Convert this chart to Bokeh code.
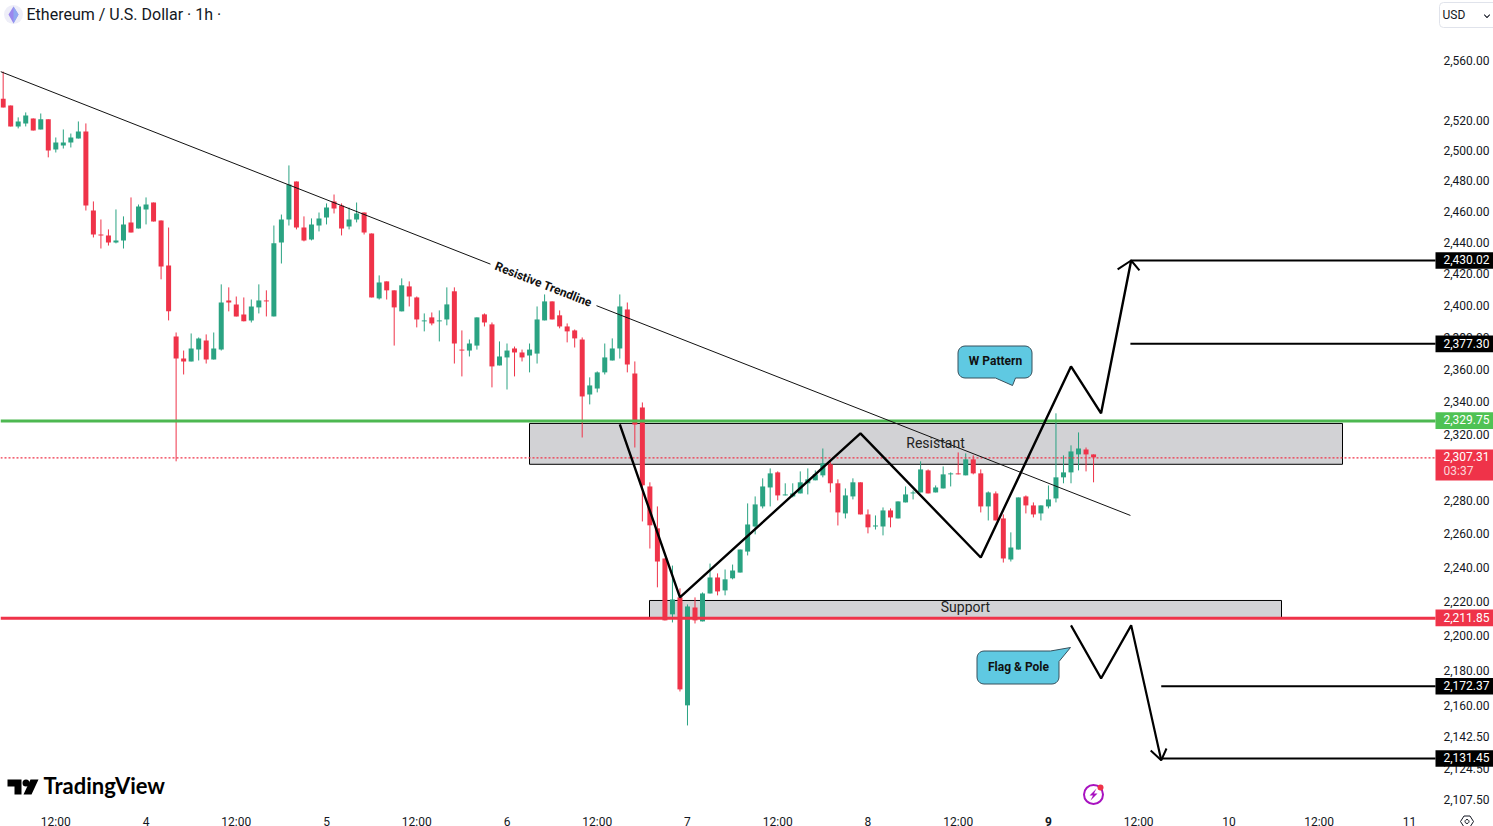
import math
from bokeh.plotting import figure
from bokeh.embed import file_html
from bokeh.resources import INLINE
from bokeh.models import Range1d, FixedTicker, Label, BoxAnnotation, PolyAnnotation

hours = list(range(-7, 139))
opens = [2535.8,2531.2,2517.3,2519.3,2522.6,2515.3,2522.0,
2502.1,2504.7,2506.7,2509.3,2513.9,2462.2,2446.7,2446.1,2441.6,2442.9,2454.5,2450.6,2462.9,2467.4,2455.8,2426.8,2381.9,2368.1,
2366.3,2373.7,2379.4,2367.5,2373.7,2404.6,2402.1,2395.8,2392.0,2400.2,2404.6,2394.5,2441.6,2456.4,2481.1,2451.2,2443.5,2452.5,2457.7,2468.1,
2465.4,2451.9,2456.4,2460.9,2447.4,2405.9,2416.7,2411.0,2397.7,2413.5,2406.5,2391.4,2393.9,2391.4,2392.6,2410.4,2373.7,2373.1,2376.2,2395.8,
2389.5,2363.8,2368.8,2374.4,2371.9,2370.0,2371.2,2392.0,2404.0,2395.2,2388.2,2385.7,2380.0,2345.8,2349.5,2359.5,2366.9,2374.4,2398.9,2358.8,
2337.8,2289.7,2264.6,2246.7,2213.9,2223.8,2161.5,2217.9,2209.8,2226.1,2235.5,2227.9,2235.0,2238.4,2250.8,2265.7,2277.7,2289.1,2298.2,2284.3,
2283.7,2285.5,2291.6,2293.4,2296.4,2303.1,2291.6,2273.5,2283.7,2292.2,2272.9,2265.7,2265.7,2275.3,2270.5,2280.1,2285.5,2286.1,2299.4,2286.1,
2288.5,2297.0,2297.6,2296.4,2306.1,2297.6,2277.7,2285.5,2270.5,2246.1,2252.0,2283.7,2278.3,2273.5,2277.7,2282.5,2295.2,2298.2,2309.1,2312.1,2309.1]
closes = [2529.9,2517.3,2520.6,2524.6,2514.6,2522.0,2501.4,
2506.7,2506.7,2510.0,2513.9,2465.4,2446.7,2446.1,2441.6,2442.9,2453.2,2448.0,2464.8,2466.1,2455.1,2426.2,2397.7,2368.1,2366.3,
2374.4,2380.7,2367.5,2374.4,2403.3,2403.3,2394.5,2391.4,2400.8,2404.6,2404.0,2441.0,2456.4,2479.2,2451.2,2442.9,2453.2,2457.1,2464.1,2463.5,
2450.6,2456.4,2460.3,2448.0,2406.5,2416.0,2411.0,2400.2,2414.2,2407.1,2392.6,2392.0,2390.1,2392.0,2402.1,2377.5,2373.1,2377.5,2393.9,2390.7,
2363.2,2369.4,2373.1,2371.9,2368.8,2373.7,2392.6,2404.0,2392.6,2388.2,2385.1,2380.7,2344.6,2351.4,2359.5,2368.8,2374.4,2400.8,2364.4,2327.3,
2290.4,2266.4,2244.9,2210.4,2222.6,2170.6,2218.5,2210.4,2226.1,2235.5,2227.3,2234.4,2239.6,2252.0,2266.9,2278.9,2289.7,2297.6,2284.3,2284.9,
2285.5,2292.2,2294.0,2297.0,2303.7,2291.6,2274.1,2284.3,2292.2,2272.9,2265.2,2266.3,2275.3,2271.1,2280.7,2284.9,2286.1,2300.0,2285.5,2289.1,
2297.0,2297.6,2297.0,2306.1,2297.6,2277.7,2286.1,2269.3,2246.7,2253.2,2283.1,2278.3,2272.9,2278.3,2281.9,2295.2,2298.2,2310.9,2312.7,2309.1,2307.31]
highs = [2553.9,2531.2,2523.3,2526.6,2522.6,2525.9,2522.0,
2510.0,2515.3,2512.6,2520.6,2519.3,2468.1,2456.4,2450.0,2462.9,2458.4,2470.7,2466.1,2470.7,2467.4,2455.8,2451.2,2384.4,2373.1,
2383.8,2381.3,2383.2,2384.4,2414.8,2412.9,2407.1,2406.5,2405.2,2414.8,2411.0,2452.5,2459.6,2491.6,2481.1,2458.4,2457.1,2460.9,2466.8,2472.6,
2466.8,2464.1,2467.4,2460.9,2447.4,2420.5,2416.7,2411.0,2418.6,2416.7,2407.1,2396.4,2397.0,2398.3,2412.9,2412.9,2385.7,2380.0,2393.9,2396.4,
2390.7,2378.8,2377.5,2375.6,2373.7,2377.5,2400.8,2408.4,2404.0,2398.3,2390.1,2386.3,2381.3,2356.4,2360.1,2377.5,2380.7,2408.4,2403.3,2366.3,
2340.9,2292.2,2277.7,2246.7,2242.5,2229.1,2219.7,2223.8,2226.7,2243.7,2237.9,2240.2,2243.1,2252.0,2279.5,2283.7,2294.6,2300.6,2298.8,2291.6,
2291.6,2298.8,2300.6,2299.4,2312.7,2305.5,2294.0,2288.5,2294.6,2292.2,2275.9,2272.3,2277.1,2276.5,2280.7,2289.7,2287.3,2304.9,2300.0,2290.3,
2301.8,2298.2,2310.3,2309.7,2308.5,2300.0,2286.7,2286.7,2272.9,2262.2,2283.1,2284.3,2280.1,2278.3,2290.3,2334.2,2308.5,2314.6,2322.5,2313.3,2309.1]
lows = [2529.9,2517.3,2516.0,2517.3,2514.6,2515.3,2496.9,
2500.1,2502.7,2503.4,2509.3,2462.2,2444.8,2437.7,2439.6,2441.0,2437.7,2448.0,2450.6,2453.2,2455.1,2418.0,2392.0,2304.9,2358.2,
2366.3,2366.9,2365.0,2367.5,2373.1,2397.7,2394.5,2391.4,2390.7,2396.4,2394.5,2394.5,2428.1,2452.5,2450.0,2442.3,2442.9,2448.7,2453.2,2460.3,
2446.1,2450.0,2454.5,2446.7,2406.5,2405.2,2405.2,2376.2,2397.7,2400.8,2387.6,2385.1,2388.9,2378.8,2388.9,2365.0,2357.0,2369.4,2373.7,2388.2,
2350.2,2363.8,2348.9,2357.0,2366.3,2359.5,2365.0,2392.0,2392.6,2387.0,2378.2,2375.0,2319.4,2339.7,2347.1,2358.2,2366.9,2368.1,2359.5,2313.3,
2268.7,2252.6,2229.7,2210.4,2209.2,2169.4,2150.1,2208.6,2209.8,2226.1,2225.0,2225.0,2234.4,2238.4,2248.5,2261.0,2276.5,2277.7,2281.3,2284.3,
2283.1,2285.5,2284.9,2293.4,2295.2,2286.1,2266.3,2270.5,2281.9,2272.9,2261.6,2263.9,2260.4,2265.2,2270.5,2280.1,2281.9,2286.1,2285.5,2286.1,
2288.5,2289.7,2297.0,2296.4,2297.0,2274.1,2269.3,2269.3,2244.3,2244.9,2252.0,2273.5,2271.1,2269.3,2276.5,2280.1,2291.6,2291.6,2299.4,2298.8,2292.2]

price_ticks = [2560,2520,2500,2480,2460,2440,2420,2400,2380,2360,2340,2320,2300,2280,2260,2240,2220,2200,2180,2160,2142.5,2124.5,2107.5]
time_ticks = [0,12,24,36,48,60,72,84,96,108,120,132,144,156,168,180]
time_labels = ["12:00","4","12:00","5","12:00","6","12:00","7","12:00","8","12:00","","12:00","10","12:00","11"]

support_price = 2211.85
resist_price = 2329.75
last_price = 2307.31
targets_up = [2430.02, 2377.30]
targets_down = [2172.37, 2131.45]

trend_x = [[-7.35, 57.8], [71.9, 142.9]]
trend_y = [[2553.9, 2427.7], [2401.3, 2272.3]]
w_x = [75.0, 83.0, 107.0, 123.0, 135.0, 139.0, 143.0]
w_y = [2327.4, 2223.8, 2321.9, 2247.3, 2363.2, 2334.2, 2430.02]
flag_x = [135.0, 139.0, 143.0, 147.0]
flag_y = [2207.5, 2176.9, 2207.5, 2130.5]
head_up_x = [141.2, 143.0, 144.1]
head_up_y = [2424.3, 2430.02, 2423.7]
head_dn_x = [145.6, 147.0, 147.7]
head_dn_y = [2136.0, 2130.5, 2137.1]

GREEN = "#2aa382"
RED = "#ef3349"
INK = "#131722"

# pixel helpers, for decoration only (logo, icons, callouts)
def hx(px): return (px - 55.3) / 7.52
def py(y): return 2430.02 * math.exp((260 - y) / 3799)
def nudge(price, dpx): return price * math.exp(-dpx / 3799)

LEFT_H, RIGHT_H = hx(0), hx(1435)

p = figure(frame_width=1493, frame_height=826, y_axis_type="log", y_axis_location="right",
           x_range=Range1d(LEFT_H, hx(1493)), y_range=Range1d(py(826), py(0)),
           toolbar_location=None, output_backend="svg", background_fill_color="white",
           min_border_left=0, min_border_top=0, min_border_right=0, min_border_bottom=0)
p.outline_line_color = None
p.grid.visible = False

ya = p.yaxis[0]
shown_ticks = [round(nudge(t, -2.3), 3) for t in price_ticks]
ya.ticker = FixedTicker(ticks=shown_ticks)
ya.major_label_overrides = {s: f"{t:,.2f}" for s, t in zip(shown_ticks, price_ticks)}
ya.fixed_location = hx(1436)
xa = p.xaxis[0]
xa.ticker = FixedTicker(ticks=time_ticks)
xa.major_label_overrides = dict(zip(time_ticks, time_labels))
xa.fixed_location = py(806)
for a in (xa, ya):
    a.axis_line_color = None
    a.major_tick_line_color = None
    a.minor_tick_line_color = None
    a.major_label_text_font = "Roboto"
    a.major_label_text_font_size = "12px"
    a.major_label_text_color = INK
ya.major_label_standoff = 1
xa.major_label_standoff = 2

# zones
p.quad(left=[hx(529), hx(649)], right=[hx(1342), hx(1281)], top=[2328.0, 2222.0], bottom=[2303.1, 2212.0],
       fill_color="#d2d2d5", line_color="black", line_width=1)

# candles
cols = [GREEN if c >= o else RED for o, c in zip(opens, closes)]
p.segment(hours, highs, hours, lows, color=cols, line_width=1)
tops = [max(o, c) for o, c in zip(opens, closes)]
bots = [min(o, c) for o, c in zip(opens, closes)]
p.vbar(x=hours, width=5/7.52, top=tops, bottom=bots, fill_color=cols, line_color=None)

# levels
p.line([LEFT_H, RIGHT_H], [nudge(resist_price, 0.5)]*2, line_color="#4db851", line_width=3)
p.line([LEFT_H, RIGHT_H], [nudge(support_price, 0.3)]*2, line_color=RED, line_width=3)
p.line([LEFT_H, RIGHT_H], [nudge(last_price, 0.5)]*2, line_color=RED, line_width=1.2, line_dash="2 2")
for lv in targets_up:
    p.line([142.9, RIGHT_H], [lv, lv], line_color="black", line_width=2)
for lv in targets_down:
    p.line([147.0, RIGHT_H], [lv, lv], line_color="black", line_width=2)

# drawings
p.multi_line(trend_x, trend_y, line_color="#111111", line_width=1)
p.line(w_x, w_y, line_color="black", line_width=2.4)
p.line(flag_x, flag_y, line_color="black", line_width=2.2)
p.line(head_up_x, head_up_y, line_color="black", line_width=2)
p.line(head_dn_x, head_dn_y, line_color="black", line_width=2)

def txt(px, y, text, size="12px", style="normal", color=INK, font="Roboto", align="center", angle=0):
    p.add_layout(Label(x=hx(px), y=py(y - 1), text=text, text_font=font, text_font_size=size, text_font_style=style,
                       text_color=color, text_align=align, text_baseline="middle", angle=angle, angle_units="deg"))

txt(543, 285, "Resistive Trendline", size="12px", style="bold", color="#111111", angle=-21.45)
txt(935, 443, "Resistant", size="14px", color="#222222")
txt(965, 607, "Support", size="14px", color="#222222")

# callouts
def arc(cx, cy, r, a0, a1, n=5):
    return [(cx + r*math.cos(math.radians(a0 + (a1-a0)*i/n)), cy + r*math.sin(math.radians(a0 + (a1-a0)*i/n))) for i in range(n+1)]

def callout(x0, y0, x1, y1, kind, r=7):
    pts = arc(x0+r, y0+r, r, 180, 270)
    if kind == "flag":
        pts += [(1050, y0), (1070, 647), (x1, 661)]
    else:
        pts += arc(x1-r, y0+r, r, 270, 360)
    pts += arc(x1-r, y1-r, r, 0, 90)
    if kind == "w":
        pts += [(1015, y1), (1012, 385), (995, y1)]
    pts += arc(x0+r, y1-r, r, 90, 180)
    p.patch([hx(a) for a, _ in pts], [py(b) for _, b in pts], fill_color="#5fc9e2", line_color="#37505c", line_width=1)

callout(957.5, 345.5, 1031.5, 377.5, "w")
callout(976.5, 650.5, 1058.5, 683.5, "flag")
txt(995, 361, "W Pattern", style="bold", color="#111111")
txt(1018, 667, "Flag & Pole", style="bold", color="#111111")

# price tags
def tag(price, color, text):
    p.add_layout(BoxAnnotation(left=1435, right=1493, left_units="screen", right_units="screen",
                               top=nudge(price, -8.3), bottom=nudge(price, 8.3),
                               fill_color=color, fill_alpha=1, line_color=None))
    p.add_layout(Label(x=1443, x_units="screen", y=nudge(price, -0.8), text=text, text_font="Roboto", text_font_size="12px",
                       text_color="white", text_baseline="middle"))

for lv in targets_up + targets_down:
    tag(lv, "black", f"{lv:,.2f}")
tag(resist_price, "#4fc254", f"{resist_price:,.2f}")
tag(support_price, RED, f"{support_price:,.2f}")
p.add_layout(BoxAnnotation(left=1435, right=1493, left_units="screen", right_units="screen", top=py(449), bottom=py(480),
                           fill_color=RED, fill_alpha=1, line_color=None))
p.add_layout(Label(x=1443, x_units="screen", y=py(456), text=f"{last_price:,.2f}", text_font="Roboto", text_font_size="12px",
                   text_color="white", text_baseline="middle"))
p.add_layout(Label(x=1443, x_units="screen", y=py(470), text="03:37", text_font="Roboto", text_font_size="12px",
                   text_color="white", text_alpha=0.8, text_baseline="middle"))

# bold day label
txt(1048, 822, "9", style="bold")

# title and icon
p.scatter([hx(13)], [py(14)], marker="circle", size=19, fill_color="#eeeef8", line_color=None)
p.patch([hx(13), hx(18), hx(13), hx(8)], [py(6), py(14), py(23), py(14)], fill_color="#9b86ee", line_color=None)
p.patch([hx(13), hx(18), hx(13)], [py(6), py(14), py(23)], fill_color="#8fa8f0", line_color=None)
p.add_layout(Label(x=26, x_units="screen", y=py(14), text="Ethereum / U.S. Dollar · 1h ·", text_font="Roboto",
                   text_font_size="16px", text_color=INK, text_baseline="middle"))

# currency box
p.add_layout(BoxAnnotation(left=1439, right=1500, left_units="screen", right_units="screen", top=py(2), bottom=py(27),
                           fill_color="white", fill_alpha=1, line_color="#e0e3eb", line_alpha=1, line_width=1, border_radius=4))
p.add_layout(Label(x=1442, x_units="screen", y=py(14), text="USD", text_font="Roboto", text_font_size="12px",
                   text_color=INK, text_baseline="middle"))
p.add_layout(PolyAnnotation(xs=[1484, 1486.5, 1489, 1489, 1486.5, 1484], xs_units="screen",
                            ys=[py(14), py(16.5), py(14), py(15), py(17.5), py(15)],
                            fill_color=INK, fill_alpha=1, line_color=INK, line_alpha=1, line_width=0.5))

# settings glyph
hexx = [1460, 1463.5, 1469.5, 1473, 1469.5, 1463.5]
hexy = [821, 815.5, 815.5, 821, 826.5, 826.5]
p.add_layout(PolyAnnotation(xs=hexx, xs_units="screen", ys=[py(v) for v in hexy], fill_alpha=0,
                            line_color=INK, line_alpha=1, line_width=1))
ring = arc(1466.5, 821, 2, 0, 360, 12)
p.add_layout(PolyAnnotation(xs=[a for a, _ in ring], xs_units="screen", ys=[py(b) for _, b in ring], fill_alpha=0,
                            line_color=INK, line_alpha=1, line_width=1))

# TradingView logo
p.patch([hx(v) for v in (7, 21, 21, 14, 14, 7)], [py(v) for v in (779, 779, 794, 794, 786, 786)], fill_color="black", line_color=None)
p.scatter([hx(25.5)], [py(782.5)], marker="circle", size=7, fill_color="black", line_color=None)
p.patch([hx(v) for v in (30, 38, 31, 23)], [py(v) for v in (779, 779, 794, 794)], fill_color="black", line_color=None)
txt(43, 786, "TradingView", size="22px", style="bold", color="black", font="Lato", align="left")

# lightning icon
p.scatter([hx(1093)], [py(794)], marker="circle", size=19, fill_alpha=0, line_color="#a812c0", line_width=2)
p.scatter([hx(1100)], [py(787)], marker="circle", size=6, fill_color=RED, line_color=None)
p.patch([hx(v) for v in (1096, 1089, 1092.5, 1090, 1097, 1093.5)], [py(v) for v in (788, 795, 795, 800, 793, 793)],
        fill_color="#a812c0", line_color=None)

open("out.html", "w").write(file_html(p, INLINE))
